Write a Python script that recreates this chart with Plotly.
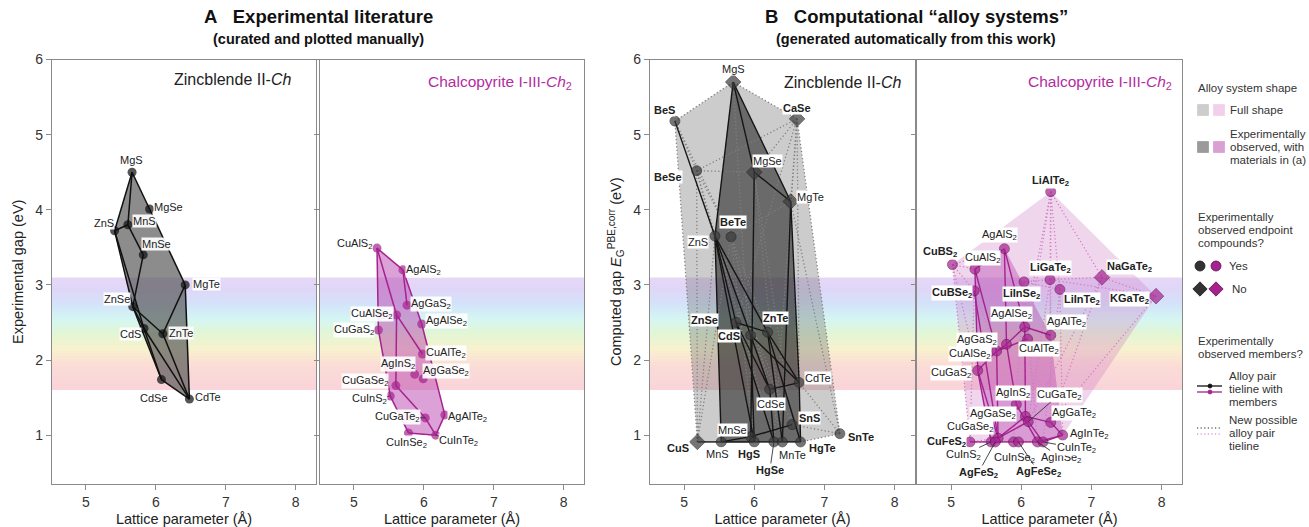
import re
import plotly.graph_objects as go

FONT = "Liberation Sans, Arial, Helvetica, sans-serif"
W, H = 1309, 527

# ======================= DATA =======================
# Panel A - zincblende II-Ch, experimental
A_ZB_NAMES = ["MgS", "MgSe", "ZnS", "MnS", "MnSe", "MgTe", "ZnSe", "CdS", "ZnTe", "CdSe", "CdTe"]
A_ZB_LATTICE = [5.66, 5.91, 5.41, 5.60, 5.82, 6.42, 5.67, 5.83, 6.10, 6.08, 6.48]
A_ZB_GAP = [4.50, 4.01, 3.72, 3.80, 3.40, 3.00, 2.71, 2.42, 2.35, 1.74, 1.48]
A_ZB_TIELINES = [("MgS", "MgSe"), ("MgSe", "MgTe"), ("MgS", "ZnS"), ("MgS", "MnS"), ("ZnS", "MnS"),
                 ("MnS", "MnSe"), ("MnSe", "ZnSe"), ("ZnS", "ZnSe"), ("ZnS", "CdS"), ("ZnSe", "CdS"),
                 ("ZnSe", "ZnTe"), ("ZnSe", "CdSe"), ("CdS", "CdSe"), ("CdS", "CdTe"), ("MgTe", "ZnTe"),
                 ("MgTe", "CdTe"), ("ZnTe", "CdTe"), ("CdSe", "CdTe")]
A_ZB_SHAPE = ["MgS", "MgSe", "MgTe", "CdTe", "CdSe", "ZnSe", "ZnS"]

# Panel A - chalcopyrite I-III-Ch2, experimental
A_CP_NAMES = ["CuAlS2", "AgAlS2", "AgGaS2", "CuAlSe2", "AgAlSe2", "CuGaS2", "CuAlTe2", "AgInS2",
              "AgGaSe2", "CuGaSe2", "CuInS2", "AgAlTe2", "CuGaTe2", "CuInSe2", "CuInTe2"]
A_CP_LATTICE = [5.33, 5.70, 5.76, 5.61, 5.97, 5.35, 5.98, 5.87, 5.99, 5.60, 5.52, 6.30, 6.02, 5.78, 6.17]
A_CP_GAP = [3.49, 3.20, 2.73, 2.60, 2.48, 2.40, 2.08, 1.81, 1.75, 1.66, 1.52, 1.27, 1.23, 1.03, 1.00]
A_CP_TIELINES = [("CuAlS2", "AgAlS2"), ("AgAlS2", "AgGaS2"), ("AgAlS2", "AgAlSe2"), ("AgAlSe2", "AgAlTe2"),
                 ("CuAlS2", "CuGaS2"), ("CuAlS2", "CuAlSe2"), ("CuAlSe2", "CuAlTe2"), ("CuAlSe2", "CuGaSe2"),
                 ("CuGaS2", "CuInS2"), ("CuInS2", "CuInSe2"), ("CuGaSe2", "CuGaTe2"), ("CuGaTe2", "CuInTe2"),
                 ("CuInSe2", "CuInTe2"), ("AgAlTe2", "CuInTe2")]
A_CP_SHAPE = ["CuAlS2", "AgAlS2", "AgAlSe2", "AgAlTe2", "CuInTe2", "CuInSe2", "CuInS2", "CuGaS2"]

# Panel B - zincblende II-Ch, computed
B_ZB_NAMES = ["MgS", "BeS", "CaSe", "BeSe", "MgSe", "MgTe", "ZnS", "BeTe", "ZnSe", "ZnTe", "CdS",
              "CdTe", "CdSe", "SnS", "SnTe", "MnSe", "CuS", "MnS", "HgS", "HgSe", "MnTe", "HgTe"]
B_ZB_LATTICE = [5.70, 4.87, 6.61, 5.18, 6.00, 6.52, 5.44, 5.67, 5.74, 6.19, 5.95,
                6.64, 6.22, 6.54, 7.22, 5.95, 5.19, 5.53, 6.00, 6.28, 6.40, 6.66]
B_ZB_GAP = [5.70, 5.18, 5.21, 4.52, 4.50, 4.11, 3.65, 3.64, 2.50, 2.37, 2.33,
            1.70, 1.61, 1.14, 1.02, 0.98, 0.91, 0.91, 0.91, 0.91, 0.91, 0.91]
B_ZB_NOT_OBSERVED = ["MgS", "CaSe", "MgSe", "MgTe", "CuS"]
B_ZB_BOLD = ["BeS", "CaSe", "BeSe", "BeTe", "ZnSe", "ZnTe", "CdS", "SnS", "SnTe", "CuS", "HgS", "HgSe", "HgTe"]
B_ZB_FULL_SHAPE = ["BeS", "MgS", "CaSe", "SnTe", "HgTe", "CuS"]
B_ZB_EXP_SHAPE = ["MgS", "MgTe", "CdTe", "HgTe", "MnS", "ZnS"]
B_ZB_TIELINES = [("BeS", "ZnS"), ("MgS", "ZnS"), ("MgS", "MgSe"), ("MgS", "MgTe"), ("MgSe", "MgTe"),
                 ("MgSe", "MnSe"), ("MgTe", "CdTe"), ("MgTe", "MnTe"), ("ZnS", "MnS"), ("ZnS", "ZnSe"),
                 ("ZnS", "CdS"), ("ZnS", "HgS"), ("ZnS", "ZnTe"), ("ZnSe", "ZnTe"), ("ZnSe", "CdSe"),
                 ("ZnSe", "HgSe"), ("CdS", "CdSe"), ("CdS", "HgS"), ("ZnTe", "CdTe"), ("ZnTe", "HgTe"),
                 ("ZnTe", "MnTe"), ("CdSe", "CdTe"), ("CdSe", "HgSe"), ("CdTe", "HgTe"), ("MnS", "MnSe"),
                 ("MnSe", "SnS"), ("CuS", "MnS"), ("MnS", "HgS"), ("HgS", "HgSe"), ("HgSe", "MnTe"),
                 ("MnTe", "HgTe"), ("CdS", "CdTe")]
B_ZB_NEW_TIELINES = [("BeS", "MgS"), ("BeS", "BeSe"), ("BeS", "BeTe"), ("BeS", "CuS"), ("BeSe", "BeTe"),
                     ("BeSe", "MgSe"), ("BeSe", "CaSe"), ("BeSe", "CuS"), ("BeSe", "ZnSe"), ("BeTe", "ZnTe"),
                     ("BeTe", "MgTe"), ("BeTe", "HgS"), ("BeTe", "MnTe"), ("BeTe", "CdSe"), ("CaSe", "MgS"),
                     ("CaSe", "MgSe"), ("CaSe", "MgTe"), ("CaSe", "CdTe"), ("CaSe", "SnTe"), ("CaSe", "ZnSe"),
                     ("CaSe", "HgSe"), ("SnTe", "CdTe"), ("SnTe", "HgTe"), ("SnTe", "SnS"), ("SnTe", "MgTe"),
                     ("SnS", "CdS"), ("SnS", "ZnS"), ("CuS", "ZnS"), ("CuS", "BeTe"), ("HgSe", "BeSe"),
                     ("HgTe", "MgTe"), ("SnS", "MgSe"), ("MnTe", "MgSe"), ("HgS", "MgS")]

# Panel B - chalcopyrite I-III-Ch2, computed
B_CP_NAMES = ["LiAlTe2", "AgAlS2", "CuBS2", "CuAlS2", "LiGaTe2", "NaGaTe2", "LiInSe2", "LiInTe2", "CuBSe2",
              "KGaTe2", "AgAlSe2", "AgAlTe2", "CuAlTe2", "AgGaS2", "CuAlSe2", "CuGaS2", "AgInS2", "AgGaSe2",
              "CuGaTe2", "AgGaTe2", "AgInTe2", "CuGaSe2", "CuFeS2", "CuInS2", "AgFeS2", "CuInSe2",
              "AgFeSe2", "AgInSe2", "CuInTe2"]
B_CP_LATTICE = [6.42, 5.76, 5.02, 5.34, 6.41, 7.15, 6.04, 6.55, 5.33,
                7.92, 6.05, 6.42, 6.09, 5.79, 5.65, 5.38, 5.93, 6.06,
                6.10, 6.42, 6.59, 5.67, 5.27, 5.57, 5.63, 5.89,
                5.96, 6.23, 6.31]
B_CP_GAP = [4.24, 3.48, 3.27, 3.21, 3.07, 3.10, 3.04, 2.94, 2.92,
            2.85, 2.44, 2.33, 2.28, 2.21, 2.12, 1.86, 1.41, 1.25,
            1.18, 1.17, 1.00, 0.96, 0.91, 0.91, 0.91, 0.91,
            0.91, 0.91, 0.91]
B_CP_NOT_OBSERVED = ["NaGaTe2", "KGaTe2"]
B_CP_BOLD = ["LiAlTe2", "CuBS2", "LiGaTe2", "NaGaTe2", "LiInSe2", "LiInTe2", "CuBSe2", "KGaTe2",
             "CuFeS2", "AgFeS2", "AgFeSe2"]
B_CP_FULL_SHAPE = ["CuBS2", "LiAlTe2", "KGaTe2", "AgInTe2", "CuInTe2", "CuFeS2"]
B_CP_EXP_SHAPE = ["CuAlS2", "AgAlS2", "AgAlTe2", "AgInTe2", "CuInTe2", "CuInS2", "CuGaS2"]
B_CP_TIELINES = [("CuAlS2", "AgAlS2"), ("CuAlS2", "CuAlSe2"), ("CuAlS2", "CuGaS2"), ("AgAlS2", "AgGaS2"),
                 ("AgAlS2", "AgAlSe2"), ("CuGaS2", "CuAlSe2"), ("CuAlSe2", "AgGaS2"), ("AgGaS2", "AgAlSe2"),
                 ("CuAlSe2", "CuGaSe2"), ("CuAlSe2", "CuAlTe2"), ("AgAlSe2", "AgAlTe2"), ("AgAlSe2", "AgGaSe2"),
                 ("AgGaS2", "AgInS2"), ("CuGaS2", "CuGaSe2"), ("CuGaS2", "CuInS2"), ("CuGaSe2", "CuGaTe2"),
                 ("CuGaSe2", "AgGaSe2"), ("AgGaSe2", "AgGaTe2"), ("AgGaTe2", "AgInTe2"), ("CuInTe2", "AgInTe2"),
                 ("CuFeS2", "CuInS2"), ("CuInS2", "CuInSe2"), ("CuInSe2", "CuInTe2"), ("AgInSe2", "AgInTe2"),
                 ("CuGaTe2", "CuInTe2"), ("AgInS2", "AgInSe2"), ("CuBSe2", "CuGaSe2")]
B_CP_NEW_TIELINES = [("CuBS2", "CuAlS2"), ("CuBS2", "CuBSe2"), ("CuBS2", "CuFeS2"), ("CuBS2", "AgAlS2"),
                     ("CuBS2", "CuGaS2"), ("CuBSe2", "CuAlSe2"), ("CuBSe2", "CuFeS2"),
                     ("LiAlTe2", "LiGaTe2"), ("LiAlTe2", "LiInTe2"), ("LiAlTe2", "AgAlTe2"), ("LiAlTe2", "CuAlTe2"),
                     ("LiAlTe2", "NaGaTe2"), ("LiGaTe2", "LiInTe2"), ("LiGaTe2", "NaGaTe2"), ("LiGaTe2", "AgGaTe2"),
                     ("LiGaTe2", "CuGaTe2"), ("LiGaTe2", "LiInSe2"), ("LiInSe2", "AgInSe2"), ("LiInSe2", "CuInSe2"),
                     ("LiInSe2", "LiInTe2"), ("LiInTe2", "AgInTe2"), ("LiInTe2", "CuInTe2"), ("NaGaTe2", "KGaTe2"),
                     ("NaGaTe2", "AgGaTe2"), ("KGaTe2", "AgGaTe2"), ("KGaTe2", "LiGaTe2"), ("AgFeS2", "CuFeS2"),
                     ("AgFeS2", "AgFeSe2"), ("AgFeSe2", "AgInSe2"), ("AgFeSe2", "CuInSe2"), ("CuFeS2", "CuGaSe2"),
                     ("LiAlTe2", "AgAlSe2"), ("LiInSe2", "AgAlSe2"), ("NaGaTe2", "CuGaTe2")]

TICK_X = [5, 6, 7, 8]
TICK_Y = [1, 2, 3, 4, 5, 6]
VISIBLE_BAND = (1.6, 3.1)

# ======================= STYLE =======================
MAGENTA = "#a5228f"
MAGENTA_TEXT = "#b32da0"
X_RANGE = [4.515, 8.29]
Y_RANGE = [0.35, 6.0]
Y_DOM = [1 - 484 / H, 1 - 59.5 / H]
X_DOMS = [(52 / W, 316 / W), (320 / W, 584 / W), (650 / W, 915 / W), (917 / W, 1182 / W)]
DOTTED = "1.2px,2.4px"

# label offsets in pixels (dx right, dy down)
A_ZB_LBL = {"MgS": (-1, -12), "MgSe": (19, -2), "ZnS": (-11, -8), "MnS": (17, -4), "MnSe": (13, -11),
            "MgTe": (21, -1), "ZnSe": (-16, -8), "CdS": (-13, 6), "ZnTe": (18, -1), "CdSe": (-7, 18),
            "CdTe": (19, -2)}
A_CP_LBL = {"CuAlS2": (-23, -4), "AgAlS2": (21, 0), "AgGaS2": (24, -1), "CuAlSe2": (-25, -1),
            "AgAlSe2": (25, -3), "CuGaS2": (-24, 0), "CuAlTe2": (24, -1), "AgInS2": (-17, -10),
            "AgGaSe2": (23, -8), "CuGaSe2": (-31, -5), "CuInS2": (-21, 3), "AgAlTe2": (23, 2),
            "CuGaTe2": (-28, -1), "CuInSe2": (-2, 10), "CuInTe2": (23, 6)}
B_ZB_LBL = {"MgS": (0, -13), "BeS": (-10, -11), "CaSe": (0, -11), "BeSe": (-29, 6), "MgSe": (13, -11),
            "MgTe": (20, -5), "ZnS": (-17, 6), "BeTe": (2, -15), "ZnSe": (-31, -2), "ZnTe": (8, -14),
            "CdS": (-22, 1), "CdTe": (19, -5), "CdSe": (1, 15), "SnS": (17, -7), "SnTe": (21, 3),
            "MnSe": (-18, -7), "CuS": (-19, 6), "MnS": (-4, 12), "HgS": (-5, 12), "HgSe": (-4, 28),
            "MnTe": (10, 13), "HgTe": (22, 6)}
B_CP_LBL = {"LiAlTe2": (0, -11), "AgAlS2": (-5, -14), "CuBS2": (-12, -13), "CuAlS2": (8, -11),
            "LiGaTe2": (0, -12), "NaGaTe2": (28, -10), "LiInSe2": (-3, 12), "LiInTe2": (22, 11),
            "CuBSe2": (-22, 2), "KGaTe2": (-27, 3), "AgAlSe2": (-13, -13), "AgAlTe2": (16, -13),
            "CuAlTe2": (11, 10), "AgGaS2": (-30, -4), "CuAlSe2": (-27, 3), "CuGaS2": (-27, 2),
            "AgInS2": (-3, -11), "CuGaTe2": (31, -27), "AgGaSe2": (-32, -2), "AgGaTe2": (23, -9),
            "CuGaSe2": (-28, -11), "AgInTe2": (27, -1), "CuFeS2": (-24, 0), "CuInS2": (-28, 13),
            "AgFeS2": (-17, 31), "CuInSe2": (1, 16), "AgFeSe2": (20, 30), "AgInSe2": (24, 16),
            "CuInTe2": (33, 6)}
LEADERS = {"HgSe", "CuGaTe2", "CuInS2", "AgFeS2", "AgFeSe2", "AgInSe2", "CuInTe2"}

BAND_STOPS = [(0.00, (249, 211, 218)), (0.22, (251, 220, 214)), (0.36, (248, 241, 206)),
              (0.50, (226, 246, 212)), (0.63, (212, 246, 243)), (0.77, (212, 226, 249)),
              (0.90, (224, 214, 248)), (1.00, (230, 216, 246))]


def sub2(name):
    return re.sub(r"2$", "<sub>2</sub>", name)


def seg_xy(pairs, names, xs, ys):
    idx = {n: i for i, n in enumerate(names)}
    X, Y = [], []
    for a, b in pairs:
        X += [xs[idx[a]], xs[idx[b]], None]
        Y += [ys[idx[a]], ys[idx[b]], None]
    return X, Y


def poly_xy(order, names, xs, ys):
    idx = {n: i for i, n in enumerate(names)}
    X = [xs[idx[n]] for n in order] + [xs[idx[order[0]]]]
    Y = [ys[idx[n]] for n in order] + [ys[idx[order[0]]]]
    return X, Y


def band_color(t):
    for (t0, c0), (t1, c1) in zip(BAND_STOPS[:-1], BAND_STOPS[1:]):
        if t0 <= t <= t1:
            f = (t - t0) / (t1 - t0) if t1 > t0 else 0
            return "rgb(%d,%d,%d)" % tuple(round(c0[k] + f * (c1[k] - c0[k])) for k in range(3))
    return "rgb(%d,%d,%d)" % BAND_STOPS[-1][1]


fig = go.Figure()
shapes, annotations = [], []

# rainbow band in each panel (strips overlap slightly to avoid seams)
N_STRIPS = 40
for i in range(1, 5):
    xr = "x domain" if i == 1 else f"x{i} domain"
    yr = "y" if i == 1 else f"y{i}"
    lo, hi = VISIBLE_BAND
    for k in range(N_STRIPS):
        y0 = lo + (hi - lo) * k / N_STRIPS
        y1 = min(hi, lo + (hi - lo) * (k + 1) / N_STRIPS + 0.03)
        shapes.append(dict(type="rect", xref=xr, yref=yr, x0=0, x1=1, y0=y0, y1=y1,
                           fillcolor=band_color((k + 0.5) / N_STRIPS), line=dict(width=0), layer="below"))


def axes_of(i):
    return ("x" if i == 1 else f"x{i}", "y" if i == 1 else f"y{i}")


def add_fill(order, names, xs, ys, panel, color):
    xa, ya = axes_of(panel)
    X, Y = poly_xy(order, names, xs, ys)
    fig.add_trace(go.Scatter(x=X, y=Y, xaxis=xa, yaxis=ya, mode="lines", fill="toself",
                             fillcolor=color, line=dict(width=0), hoverinfo="skip", showlegend=False))


def add_lines(pairs, names, xs, ys, panel, color, width, dash="solid"):
    xa, ya = axes_of(panel)
    X, Y = seg_xy(pairs, names, xs, ys)
    fig.add_trace(go.Scatter(x=X, y=Y, xaxis=xa, yaxis=ya, mode="lines",
                             line=dict(color=color, width=width, dash=dash),
                             hoverinfo="skip", showlegend=False))


def add_points(names, xs, ys, panel, color, size, outline, diamonds=()):
    xa, ya = axes_of(panel)
    symbols = ["diamond" if n in diamonds else "circle" for n in names]
    sizes = [size + 2 if n in diamonds else size for n in names]
    mline = dict(color=outline, width=0.8) if outline else dict(width=0)
    fig.add_trace(go.Scatter(x=xs, y=ys, xaxis=xa, yaxis=ya, mode="markers", text=names,
                             marker=dict(color=color, size=sizes, symbol=symbols, line=mline),
                             hovertemplate="%{text}: a=%{x} Å, gap=%{y} eV<extra></extra>",
                             showlegend=False))


def add_labels(names, xs, ys, panel, offsets, bold=(), bg="rgba(255,255,255,0.92)"):
    xa, ya = axes_of(panel)
    for n, x, y in zip(names, xs, ys):
        dx, dy = offsets[n]
        txt = sub2(n)
        if n in bold:
            txt = f"<b>{txt}</b>"
        leader = n in LEADERS
        annotations.append(dict(x=x, y=y, xref=xa, yref=ya, text=txt, showarrow=True, ax=dx, ay=dy,
                                arrowhead=0, arrowwidth=0.9 if leader else 0.1,
                                arrowcolor="#333333" if leader else "rgba(0,0,0,0)",
                                xanchor="center", yanchor="middle", bgcolor=bg, borderpad=0,
                                font=dict(family=FONT, size=11, color="#222222")))


# ---- Panel A left
add_fill(A_ZB_SHAPE, A_ZB_NAMES, A_ZB_LATTICE, A_ZB_GAP, 1, "rgba(85,85,85,0.68)")
add_lines(A_ZB_TIELINES, A_ZB_NAMES, A_ZB_LATTICE, A_ZB_GAP, 1, "#111111", 1.5)
add_points(A_ZB_NAMES, A_ZB_LATTICE, A_ZB_GAP, 1, "#0d0d0d", 9, None)
add_labels(A_ZB_NAMES, A_ZB_LATTICE, A_ZB_GAP, 1, A_ZB_LBL)

# ---- Panel A right
add_fill(A_CP_SHAPE, A_CP_NAMES, A_CP_LATTICE, A_CP_GAP, 2, "rgba(185,70,175,0.50)")
add_lines(A_CP_TIELINES, A_CP_NAMES, A_CP_LATTICE, A_CP_GAP, 2, MAGENTA, 1.5)
add_points(A_CP_NAMES, A_CP_LATTICE, A_CP_GAP, 2, MAGENTA, 9, None)
add_labels(A_CP_NAMES, A_CP_LATTICE, A_CP_GAP, 2, A_CP_LBL)

# ---- Panel B left
add_fill(B_ZB_FULL_SHAPE, B_ZB_NAMES, B_ZB_LATTICE, B_ZB_GAP, 3, "rgba(120,120,120,0.38)")
add_fill(B_ZB_EXP_SHAPE, B_ZB_NAMES, B_ZB_LATTICE, B_ZB_GAP, 3, "rgba(35,35,35,0.58)")
add_lines(B_ZB_NEW_TIELINES, B_ZB_NAMES, B_ZB_LATTICE, B_ZB_GAP, 3, "#7f7f7f", 1.3, DOTTED)
add_lines(B_ZB_TIELINES, B_ZB_NAMES, B_ZB_LATTICE, B_ZB_GAP, 3, "#151515", 1.4)
add_points(B_ZB_NAMES, B_ZB_LATTICE, B_ZB_GAP, 3, "#3a3a3a", 10, "#1a1a1a", B_ZB_NOT_OBSERVED)
add_labels(B_ZB_NAMES, B_ZB_LATTICE, B_ZB_GAP, 3, B_ZB_LBL, B_ZB_BOLD, "white")

# ---- Panel B right
add_fill(B_CP_FULL_SHAPE, B_CP_NAMES, B_CP_LATTICE, B_CP_GAP, 4, "rgba(205,120,195,0.30)")
add_fill(B_CP_EXP_SHAPE, B_CP_NAMES, B_CP_LATTICE, B_CP_GAP, 4, "rgba(180,60,170,0.38)")
add_lines(B_CP_NEW_TIELINES, B_CP_NAMES, B_CP_LATTICE, B_CP_GAP, 4, "#cf7ec4", 1.3, DOTTED)
add_lines(B_CP_TIELINES, B_CP_NAMES, B_CP_LATTICE, B_CP_GAP, 4, MAGENTA, 1.4)
add_points(B_CP_NAMES, B_CP_LATTICE, B_CP_GAP, 4, MAGENTA, 10, "#5a0f50", B_CP_NOT_OBSERVED)
add_labels(B_CP_NAMES, B_CP_LATTICE, B_CP_GAP, 4, B_CP_LBL, B_CP_BOLD, "white")

# ---- axes
layout = dict(width=W, height=H, autosize=False, margin=dict(l=0, r=0, t=0, b=0, pad=0, autoexpand=False),
              paper_bgcolor="white", plot_bgcolor="rgba(0,0,0,0)", showlegend=False,
              font=dict(family=FONT, color="#222222"))
Y_TITLES = {1: "Experimental gap (eV)",
            3: "Computed gap <i>E</i><sub>G</sub><sup>PBE,corr</sup> (eV)"}
for i, (d0, d1) in enumerate(X_DOMS, start=1):
    xa, ya = axes_of(i)
    xk = "xaxis" if i == 1 else f"xaxis{i}"
    yk = "yaxis" if i == 1 else f"yaxis{i}"
    common = dict(showline=True, linecolor="#8a8a8a", linewidth=1.3, mirror=True, showgrid=False,
                  zeroline=False, ticks="outside", ticklen=5, tickcolor="#8a8a8a", automargin=False,
                  tickfont=dict(family=FONT, size=14, color="#333333"))
    layout[xk] = dict(domain=[d0, d1], range=X_RANGE, anchor=ya, tickvals=TICK_X,
                      title=dict(text="Lattice parameter (Å)", font=dict(family=FONT, size=14.5, color="#222"),
                                 standoff=6), **common)
    ydict = dict(domain=Y_DOM, range=Y_RANGE, anchor=xa, tickvals=TICK_Y,
                 showticklabels=i in (1, 3), **common)
    if i in Y_TITLES:
        ydict["title"] = dict(text=Y_TITLES[i], font=dict(family=FONT, size=14.5, color="#222"), standoff=8)
    layout[yk] = ydict

# overlay axis for the custom legend (pixel units), transparent background
layout["xaxis5"] = dict(domain=[0, 1], range=[0, W], visible=False, anchor="y5", fixedrange=True, automargin=False)
layout["yaxis5"] = dict(domain=[0, 1], range=[H, 0], visible=False, anchor="x5", fixedrange=True, automargin=False)


def paper_text(px, py, text, size, color="#111111", xanchor="center", bold=False):
    annotations.append(dict(x=px / W, y=1 - py / H, xref="paper", yref="paper",
                            text=f"<b>{text}</b>" if bold else text,
                            showarrow=False, xanchor=xanchor, yanchor="middle",
                            font=dict(family=FONT, size=size, color=color)))


paper_text(318, 17, "A&nbsp;&nbsp;&nbsp;Experimental literature", 18.5, bold=True)
paper_text(318, 39, "(curated and plotted manually)", 14.5, bold=True)
paper_text(916, 17, "B&nbsp;&nbsp;&nbsp;Computational “alloy systems”", 18.5, bold=True)
paper_text(916, 39, "(generated automatically from this work)", 14.5, bold=True)

paper_text(293, 79, "Zincblende II-<i>Ch</i>", 16, "#222222", "right")
paper_text(574, 82, "Chalcopyrite I-III-<i>Ch</i><sub>2</sub>", 15.5, MAGENTA_TEXT, "right")
paper_text(903, 82, "Zincblende II-<i>Ch</i>", 16, "#222222", "right")
paper_text(1174, 82, "Chalcopyrite I-III-<i>Ch</i><sub>2</sub>", 15.5, MAGENTA_TEXT, "right")

# ---- custom legend
LEG_TXT = "#333333"


def leg_text(px, py, text):
    paper_text(px, py, text, 11.5, LEG_TXT, "left")


leg_text(1196, 88, "Alloy system shape")
leg_text(1228, 110, "Full shape")
leg_text(1228, 134, "Experimentally")
leg_text(1228, 147, "observed, with")
leg_text(1228, 160, "materials in (a)")
leg_text(1196, 217, "Experimentally")
leg_text(1196, 230, "observed endpoint")
leg_text(1196, 243, "compounds?")
leg_text(1227, 266, "Yes")
leg_text(1230, 289, "No")
leg_text(1196, 341, "Experimentally")
leg_text(1196, 354, "observed members?")
leg_text(1227, 376, "Alloy pair")
leg_text(1227, 389, "tieline with")
leg_text(1227, 402, "members")
leg_text(1227, 420, "New possible")
leg_text(1227, 433, "alloy pair")
leg_text(1227, 446, "tieline")


def leg_marker(px, py, color, symbol, size, line_color=None):
    fig.add_trace(go.Scatter(x=[px], y=[py], xaxis="x5", yaxis="y5", mode="markers", hoverinfo="skip",
                             marker=dict(color=color, symbol=symbol, size=size,
                                         line=dict(color=line_color or color, width=0.8)),
                             showlegend=False, cliponaxis=False))


def leg_line(px0, px1, py, color, dash, width=1.3):
    fig.add_trace(go.Scatter(x=[px0, px1], y=[py, py], xaxis="x5", yaxis="y5", mode="lines",
                             hoverinfo="skip", line=dict(color=color, dash=dash, width=width),
                             showlegend=False))


leg_marker(1203, 110, "#cdcdcd", "square", 11)
leg_marker(1219, 110, "#f0d0ea", "square", 11)
leg_marker(1203, 147, "#9a9a9a", "square", 11)
leg_marker(1219, 147, "#d9a0d3", "square", 11)
leg_marker(1200, 266, "#333333", "circle", 10, "#1a1a1a")
leg_marker(1216, 266, MAGENTA, "circle", 10, "#5a0f50")
leg_marker(1200, 289, "#333333", "diamond", 11, "#1a1a1a")
leg_marker(1216, 289, MAGENTA, "diamond", 11, "#5a0f50")
leg_line(1197, 1222, 386, "#111111", "solid")
leg_line(1197, 1222, 392, MAGENTA, "solid")
leg_marker(1210, 386, "#111111", "circle", 4)
leg_marker(1210, 392, MAGENTA, "circle", 4)
leg_line(1197, 1222, 428, "#222222", DOTTED, 1.2)
leg_line(1197, 1222, 434, "#d070c4", DOTTED, 1.2)

layout["shapes"] = shapes
layout["annotations"] = annotations
fig.update_layout(**layout)
fig.write_html("out.html", config={"displayModeBar": False},
               post_script="document.body.style.margin='0';document.body.style.overflow='hidden';")
